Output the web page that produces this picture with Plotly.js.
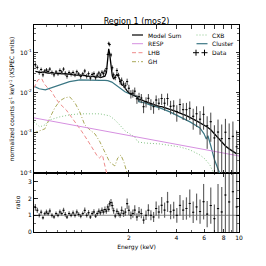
<!DOCTYPE html>
<html><head><meta charset="utf-8">
<script src="https://cdn.plot.ly/plotly-3.0.1.min.js"></script>
<style>html,body{margin:0;padding:0;background:#fff}#chart{width:266px;height:266px}</style>
</head><body><div id="chart"></div>
<script>
const energy = [0.51,0.525,0.54,0.555,0.57,0.585,0.60,0.615,0.63,0.65,0.67,0.69,0.71,0.73,0.75,0.77,0.79,0.81,0.835,0.86,0.885,0.91,0.935,0.96,0.99,1.02,1.05,1.08,1.11,1.14,1.17,1.20,1.23,1.26,1.29,1.32,1.35,1.38,1.41,1.44,1.47,1.49,1.51,1.54,1.57,1.60,1.64,1.68,1.72,1.76,1.80,1.85,1.90,1.95,2.00,2.06,2.12,2.18,2.25,2.32,2.40,2.48,2.57,2.66,2.76,2.87,2.98,3.10,3.23,3.37,3.52,3.68,3.85,4.03,4.22,4.42,4.64,4.87,5.12,5.38,5.66,5.96,6.28,6.62,6.98,7.36,7.77,8.20,8.66,9.15,9.67];
const modelSum = [0.034,0.033,0.032,0.032,0.033,0.032,0.031,0.031,0.031,0.032,
 0.031,0.030,0.030,0.030,0.030,0.030,0.029,0.029,0.029,0.029,
 0.028,0.028,0.028,0.028,0.027,0.027,0.027,0.026,0.026,0.026,
 0.026,0.025,0.025,0.025,0.025,0.024,0.025,0.025,0.026,0.032,
 0.060,0.125,0.095,0.050,0.0266,0.022,0.025,0.029,0.025,0.0188,
 0.0158,0.0150,0.0126,0.0112,0.0100,0.0094,0.0089,0.0084,0.0079,0.0067,
 0.0067,0.0063,0.0060,0.0056,0.0053,0.0050,0.0047,0.0046,0.0045,0.0042,
 0.0040,0.0038,0.0036,0.0034,0.0032,0.0029,0.0027,0.0024,0.0022,0.0020,
 0.0018,0.0016,0.0014,0.0012,0.00094,0.00075,0.0006,0.00047,0.0004,0.00034,
 0.0003];
const dataFlux = [0.050,0.043,0.032,0.038,0.028,0.035,0.037,0.034,0.039,0.032,
 0.028,0.033,0.030,0.036,0.033,0.039,0.0305,0.026,0.032,0.029,
 0.032,0.028,0.0335,0.0295,0.0257,0.0297,0.035,0.026,0.030,0.0234,
 0.0286,0.030,0.0238,0.0275,0.0312,0.0276,0.0325,0.030,0.035,0.040,
 0.090,0.170,0.160,0.088,0.042,0.028,0.024,0.036,0.0275,0.019,
 0.0205,0.0165,0.015,0.019,0.013,0.0094,0.0098,0.011,0.0071,0.008,
 0.0074,0.0045,0.006,0.0073,0.0053,0.0045,0.0066,0.0055,0.0072,0.0055,
 0.0072,0.0046,0.0047,0.0034,0.0051,0.0038,0.0038,0.0041,0.0026,0.0030,
 0.0022,0.0029,0.0015,0.0019,0.00075,0.00105,0.00072,0.00104,0.00072,0.00082,
 0.00045];
const dataErr = [0.007,0.005,0.004,0.0045,0.0035,0.004,0.0045,0.004,0.0045,0.004,
 0.0035,0.004,0.0035,0.0045,0.004,0.0045,0.004,0.0035,0.004,0.0035,
 0.004,0.0035,0.004,0.0035,0.0035,0.0035,0.0045,0.0035,0.004,0.003,
 0.0035,0.004,0.003,0.0035,0.004,0.0035,0.004,0.004,0.0045,0.005,
 0.010,0.018,0.017,0.011,0.006,0.004,0.0035,0.005,0.004,0.003,
 0.0035,0.003,0.003,0.0035,0.0028,0.0022,0.0022,0.0025,0.0018,0.002,
 0.0019,0.0014,0.0017,0.002,0.0016,0.0015,0.002,0.0018,0.0022,0.0019,
 0.0024,0.0017,0.0018,0.0015,0.002,0.0017,0.0018,0.002,0.0014,0.0016,
 0.0013,0.0017,0.0011,0.0013,0.0008,0.0011,0.0009,0.0012,0.0010,0.0011,
 0.0007];
const respE = [0.5, 1, 2, 5, 10];
const respV = [0.00237, 0.00143, 0.00086, 0.00044, 0.000266];
const lhbE = [0.5,0.53,0.56,0.58,0.61,0.65,0.67,0.72,0.8,0.9,1.0,1.1,1.2,1.26,1.3,1.33,1.36,1.4,1.45];
const lhbV = [0.0133,0.0211,0.0224,0.0168,0.0133,0.0106,0.0084,0.0056,0.00376,0.0020,0.00112,0.00063,0.000355,0.000266,0.000237,0.000266,0.00028,0.000168,0.000094];
const ghE = [0.5,0.544,0.586,0.63,0.678,0.729,0.786,0.843,0.91,0.975,1.05,1.131,1.22,1.309,1.41,1.51,1.63,1.70,1.78,1.86,1.94,2.0];
const ghV = [0.001,0.00112,0.00126,0.00237,0.00422,0.0063,0.0075,0.0079,0.0056,0.00335,0.00158,0.00119,0.00094,0.0006,0.000335,0.000188,0.00015,0.000237,0.00028,0.000188,0.000106,0.00008];
const cxbE = [0.5,0.544,0.586,0.63,0.729,0.843,0.975,1.131,1.309,1.51,1.63,1.75,1.89,2.03,2.18,2.28,2.53,3.15,4.21,4.89,5.65,6.08,6.54,6.84,7.14];
const cxbV = [0.00188,0.00141,0.00158,0.00211,0.00251,0.00282,0.00299,0.00299,0.00299,0.00266,0.00211,0.00158,0.00112,0.00094,0.00079,0.000596,0.00056,0.00053,0.000447,0.000376,0.000282,0.000224,0.000158,0.000106,0.00007];
const clusterE = [0.5,0.54,0.59,0.63,0.73,0.84,0.98,1.13,1.31,1.41,1.47,1.56,1.65,1.75,1.89,2.03,2.18,2.28,2.31,2.53,2.72,3.15,3.64,4.21,4.89,5.65,6.0,6.2,6.35,6.6,7.0,7.4,7.8];
const clusterV = [0.0145,0.0126,0.0119,0.0130,0.0160,0.0190,0.0210,0.0212,0.0205,0.0203,0.0200,0.0185,0.0158,0.0133,0.0106,0.0094,0.0084,0.0079,0.0060,0.0056,0.0050,0.0042,0.00335,0.00251,0.00188,0.00133,0.00095,0.0007,0.00085,0.0005,0.00021,0.000119,0.00007];
const xTickVals = [2,4,6,8,10];
const xTickText = ['2','4','6','8','10'];
const yTickVals = [1e-4,1e-3,1e-2,1e-1];
const yTickText = ['10<sup>-4</sup>','10<sup>-3</sup>','10<sup>-2</sup>','10<sup>-1</sup>'];
const rTickVals = [0,1,2,3];

const ratio = dataFlux.map((d,i)=>d/modelSum[i]);
const ratioErr = dataErr.map((e,i)=>e/modelSum[i]);

const F = 'DejaVu Sans, sans-serif';
const FS = 6;
const topAx = {xaxis:'x2', yaxis:'y'};
const traces = [
 Object.assign({x:clusterE, y:clusterV, mode:'lines', line:{color:'#3b7784', width:1.2}}, topAx),
 Object.assign({x:cxbE, y:cxbV, mode:'lines', line:{color:'#86c486', width:1, dash:'1px,2px'}}, topAx),
 Object.assign({x:ghE, y:ghV, mode:'lines', line:{color:'#aaa95a', width:1, dash:'4px,2px,1px,2px'}}, topAx),
 Object.assign({x:lhbE, y:lhbV, mode:'lines', line:{color:'#ee8a8a', width:1, dash:'4px,2.5px'}}, topAx),
 Object.assign({x:respE, y:respV, mode:'lines', line:{color:'#d690e0', width:1}}, topAx),
 Object.assign({x:energy, y:modelSum, mode:'lines', line:{color:'#000', width:1.3}}, topAx),
 Object.assign({x:energy, y:dataFlux, mode:'markers', marker:{size:1, color:'#000'},
   error_y:{type:'data', array:dataErr, color:'#444', thickness:1, width:0},
   error_x:{type:'percent', value:1.6, color:'#000', thickness:1, width:0}}, topAx),
 {x:energy, y:ratio, xaxis:'x', yaxis:'y2', mode:'markers', marker:{size:1, color:'#000'},
   error_y:{type:'data', array:ratioErr, color:'#666', thickness:1.2, width:0},
   error_x:{type:'percent', value:1.6, color:'#000', thickness:1, width:0}}
];

const px = p => (p-34)/205, py = p => (232-p)/207;
const legRows = [35, 43.7, 52.7, 61.7];
const shapes = [
 {type:'line', xref:'x', yref:'y2', x0:0.5, x1:10, y0:1, y1:1, line:{color:'#888', width:1}, layer:'below'},
 {type:'line', xref:'paper', yref:'paper', x0:px(132), x1:px(143), y0:py(legRows[0]), y1:py(legRows[0]), line:{color:'#000', width:1.2}},
 {type:'line', xref:'paper', yref:'paper', x0:px(132), x1:px(143), y0:py(legRows[1]), y1:py(legRows[1]), line:{color:'#d690e0', width:1}},
 {type:'line', xref:'paper', yref:'paper', x0:px(132), x1:px(143), y0:py(legRows[2]), y1:py(legRows[2]), line:{color:'#ee8a8a', width:1, dash:'4px,2.5px'}},
 {type:'line', xref:'paper', yref:'paper', x0:px(132), x1:px(143), y0:py(legRows[3]), y1:py(legRows[3]), line:{color:'#aaa95a', width:1, dash:'4px,2px,1px,2px'}},
 {type:'line', xref:'paper', yref:'paper', x0:px(196.5), x1:px(207.5), y0:py(legRows[0]), y1:py(legRows[0]), line:{color:'#86c486', width:1, dash:'1px,2px'}},
 {type:'line', xref:'paper', yref:'paper', x0:px(196.5), x1:px(207.5), y0:py(legRows[1]), y1:py(legRows[1]), line:{color:'#3b7784', width:1.2}},
];
[196, 204.5].forEach(c => {
 shapes.push({type:'line', xref:'paper', yref:'paper', x0:px(c-3), x1:px(c+3), y0:py(legRows[2]), y1:py(legRows[2]), line:{color:'#000', width:1}});
 shapes.push({type:'line', xref:'paper', yref:'paper', x0:px(c), x1:px(c), y0:py(legRows[2]-3), y1:py(legRows[2]+3), line:{color:'#000', width:1}});
});
const legText = (t, x, row) => ({text:t, xref:'paper', yref:'paper', x:px(x), y:py(legRows[row]), xanchor:'left', yanchor:'middle', showarrow:false, font:{family:F, size:FS, color:'#000'}, borderpad:0});
const annotations = [
 legText('Model Sum', 147, 0), legText('RESP', 147, 1), legText('LHB', 147, 2), legText('GH', 147, 3),
 legText('CXB', 211, 0), legText('Cluster', 211, 1), legText('Data', 211, 2)
];

const axBase = {showline:true, linecolor:'#000', linewidth:1, mirror:'allticks', ticks:'inside', ticklen:3.5, tickwidth:0.8, tickcolor:'#000', showgrid:false, zeroline:false, tickfont:{family:F, size:FS, color:'#000'}};
const xMinor = {tickvals:[0.6,0.7,0.8,0.9,1,3,5,7,9], ticks:'inside', ticklen:2, tickwidth:0.6, tickcolor:'#000'};
const yMinorVals = [];
[1e-4,1e-3,1e-2,1e-1].forEach(d => {for (let k=2;k<=9;k++) yMinorVals.push(d*k);});

const layout = {
 width:266, height:266, margin:{l:34, r:27, t:25, b:34},
 paper_bgcolor:'#fff', plot_bgcolor:'#fff', showlegend:false,
 font:{family:F, size:FS, color:'#000'},
 title:{text:'Region 1 (mos2)', font:{family:F, size:8, color:'#000'}, xref:'paper', x:0.5, xanchor:'center', yref:'container', y:1-21/266, yanchor:'middle'},
 xaxis: Object.assign({}, axBase, {type:'log', range:[Math.log10(0.5), 1], anchor:'y2', domain:[0,1],
   tickmode:'array', tickvals:xTickVals, ticktext:xTickText, minor:xMinor,
   title:{text:'Energy (keV)', font:{family:F, size:FS, color:'#000'}, standoff:4}}),
 xaxis2: Object.assign({}, axBase, {type:'log', matches:'x', anchor:'y', domain:[0,1], showticklabels:false,
   tickmode:'array', tickvals:[1,2,3,4,5,6,7,8,9,10], minor:{tickvals:[0.6,0.7,0.8,0.9], ticks:'inside', ticklen:2, tickwidth:0.6, tickcolor:'#000'}}),
 yaxis: Object.assign({}, axBase, {type:'log', range:[-4, -0.31], domain:[0.285,1], anchor:'x2',
   tickmode:'array', tickvals:yTickVals, ticktext:yTickText,
   minor:{tickvals:yMinorVals, ticks:'inside', ticklen:2, tickwidth:0.6, tickcolor:'#000'},
   title:{text:'normalized counts s<sup>-1</sup> keV<sup>-1</sup> (XSPEC units)', font:{family:F, size:FS, color:'#000'}, standoff:4}}),
 yaxis2: Object.assign({}, axBase, {range:[0, 3.53], domain:[0,0.285], anchor:'x',
   tickmode:'array', tickvals:rTickVals, ticktext:['0','1','2','3'],
   minor:{dtick:0.5, ticks:'inside', ticklen:2, tickwidth:0.6, tickcolor:'#000'},
   title:{text:'ratio', font:{family:F, size:FS, color:'#000'}, standoff:6}}),
 shapes:shapes, annotations:annotations
};
Plotly.newPlot('chart', traces, layout, {staticPlot:true, displayModeBar:false});
</script>
</body></html>
